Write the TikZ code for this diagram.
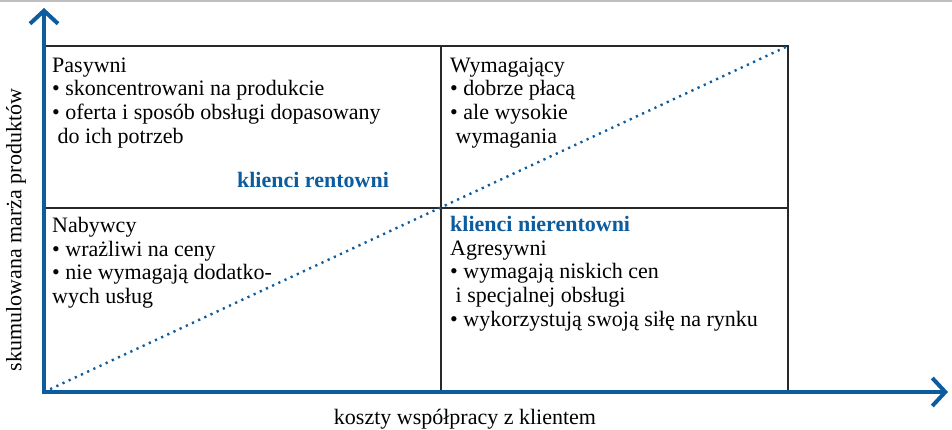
\documentclass[tikz,border=0pt]{standalone}
\usepackage{fontspec}
\setmainfont{Liberation Serif}
\usetikzlibrary{arrows.meta}
\definecolor{axisblue}{RGB}{12,92,158}
\definecolor{framegray}{RGB}{40,40,40}
\tikzset{
  axis/.style={draw=axisblue, line width=4pt, -{Straight Barb[length=13pt,width=28pt,line width=4pt]}},
  grid/.style={draw=framegray, line width=1.3pt},
  diag/.style={draw=axisblue, line width=2.4pt, dash pattern=on 2.2pt off 4.6pt},
  quad/.style={anchor=north west, align=left, inner sep=0pt, font=\fontsize{22}{23.7}\selectfont, text=black},
  blue label/.style={inner sep=0pt, font=\fontsize{22}{23.7}\selectfont\bfseries, text=axisblue},
  axlabel/.style={inner sep=0pt, font=\fontsize{22}{23}\selectfont}
}
\begin{document}
\begin{tikzpicture}[x=1pt,y=-1pt]
\useasboundingbox (0,0) rectangle (952,430);
\draw[black!25, line width=1.5pt] (0,1) -- (952,1);
% corners
\coordinate (O) at (44,392);
\coordinate (TL) at (44,46);
\coordinate (TR) at (788,46);
\coordinate (BR) at (788,392);
\coordinate (MT) at (441,46);
\coordinate (MB) at (441,392);
\coordinate (ML) at (44,208);
\coordinate (MR) at (788,208);
\coordinate (Ytip) at (44,8);
\coordinate (Xtip) at (948,392);
% grid
\draw[grid] (TL) -- (TR) -- (BR);
\draw[grid] (MT) -- (MB);
\draw[grid] (ML) -- (MR);
% diagonal
\draw[diag] (O) -- (TR);
% axes
\draw[axis] ([yshift=2pt]O) -- (Ytip);
\draw[axis] ([xshift=-2pt]O) -- (Xtip);
% texts
\node[quad] (pas) at (52,57.5) {Pasywni\\
\textbullet\ skoncentrowani na produkcie\\
\textbullet\ oferta i sposób obsługi dopasowany\\
\ do ich potrzeb};
\node[blue label, anchor=base] (rent) at (313,188) {klienci rentowni};
\node[quad] (wym) at (450,57.5) {Wymagający\\
\textbullet\ dobrze płacą\\
\textbullet\ ale wysokie\\
\ wymagania};
\node[quad] (nab) at (52,217) {Nabywcy\\
\textbullet\ wrażliwi na ceny\\
\textbullet\ nie wymagają dodatko-\\
wych usług};
\node[blue label, anchor=base west] (nier) at (450,232) {klienci nierentowni};
\node[quad] (agr) at (450,240.5) {Agresywni\\
\textbullet\ wymagają niskich cen\\
\ i specjalnej obsługi\\
\textbullet\ wykorzystują swoją siłę na rynku};
\node[axlabel, rotate=90] (ylab) at (16,230) {skumulowana marża produktów};
\node[axlabel] (xlab) at (465,419) {koszty współpracy z klientem};
\end{tikzpicture}
\end{document}
